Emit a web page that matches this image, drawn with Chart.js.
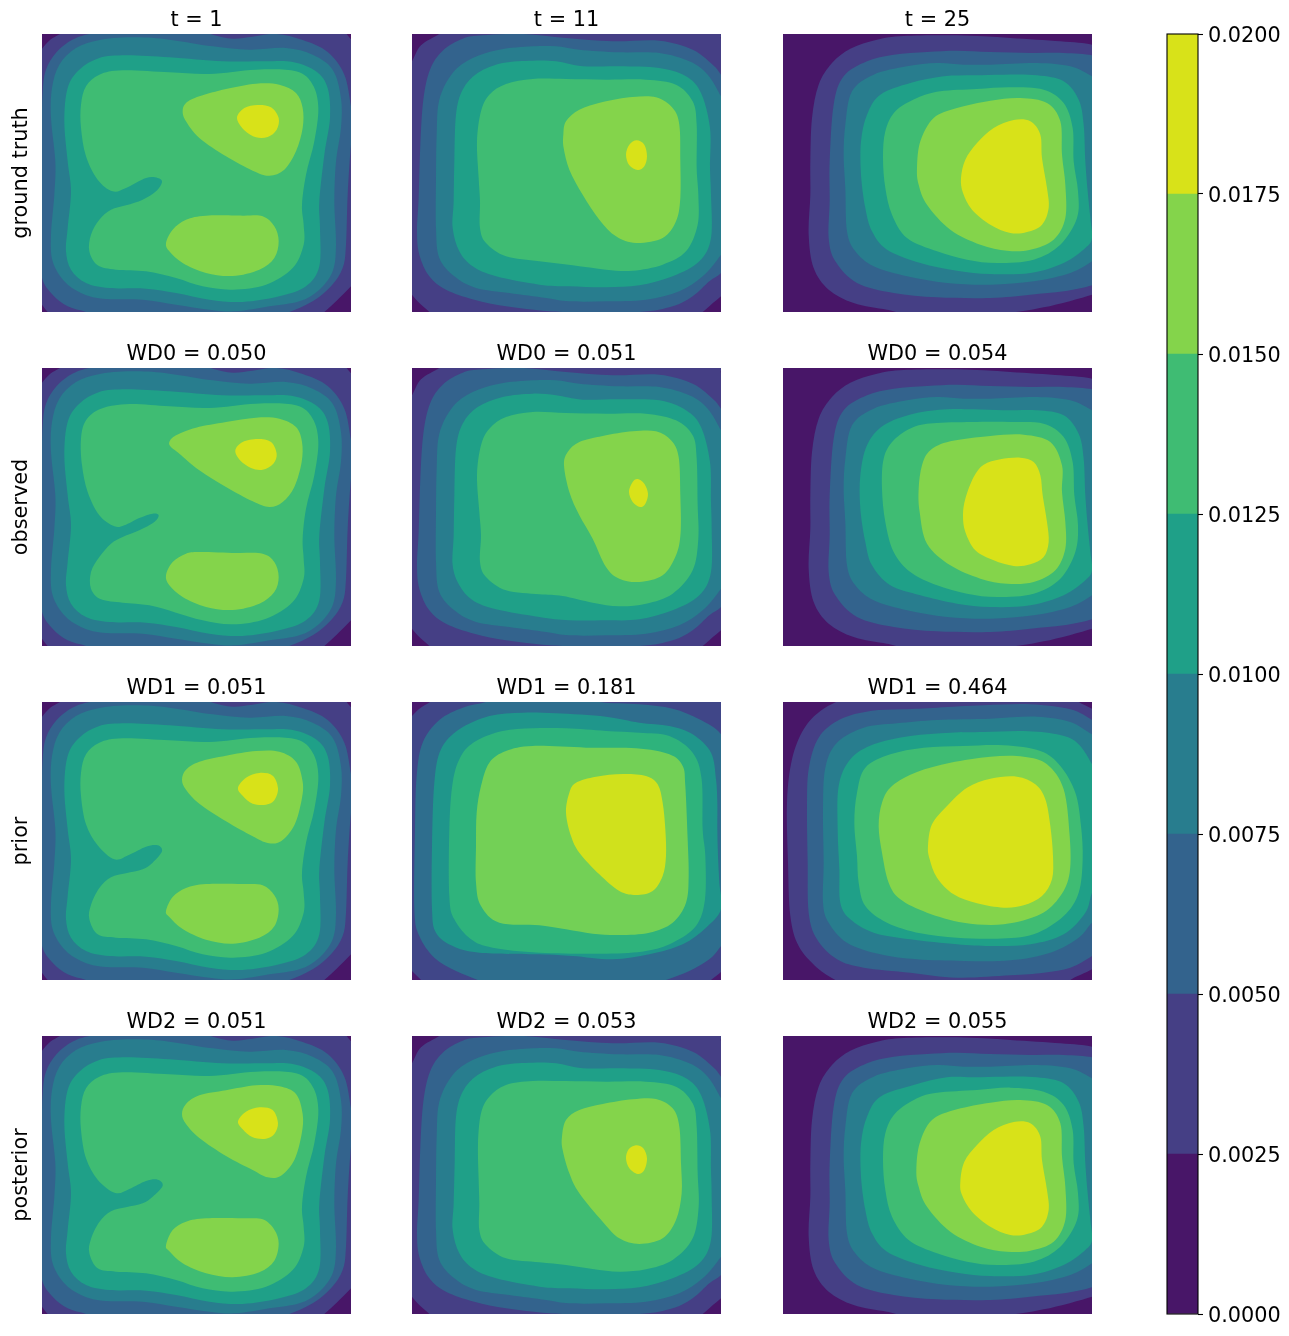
<!DOCTYPE html>
<html>
<head>
<meta charset="utf-8">
<title>Contour panels</title>
<script src="https://cdn.jsdelivr.net/npm/chart.js@4"></script>
<style>
  body { margin: 0; background: #fff; }
  #page { position: relative; width: 1289px; height: 1336px; overflow: hidden; }
  canvas { position: absolute; }
</style>
</head>
<body>
<div id="page"></div>
<script>
// labels
const rowLabels = ['ground truth', 'observed', 'prior', 'posterior'];
const panelTitles = [
  ['t = 1', 't = 11', 't = 25'],
  ['WD0 = 0.050', 'WD0 = 0.051', 'WD0 = 0.054'],
  ['WD1 = 0.051', 'WD1 = 0.181', 'WD1 = 0.464'],
  ['WD2 = 0.051', 'WD2 = 0.053', 'WD2 = 0.055']
];

// colour levels
const levelEdges = [0, 0.0025, 0.005, 0.0075, 0.01, 0.0125, 0.015, 0.0175, 0.02];
const levelColors = ['#481668', '#453f85', '#33638d', '#287d8e', '#1fa088', '#3fbc73', '#84d44b', '#d8e219'];
const priorT11Colors = ['#4a1a6e', '#404688', '#2e6e8e', '#1f968b', '#2eb37c', '#73d056', '#d0e11c', '#d0e11c'];

// contour grid range
const gridX = [18, 945];
const gridY = [18, 852];

// contour outlines as [level, vertices], level counts from 1 = lowest colour
const ringsT1 = [
  [2, [[-10,95],[18,62],[42,36],[72,18],[110,-5],[500,-20],[918,-5],[932,18],[945,34],[960,55],[975,400],[965,745],[945,775],[905,815],[865,852],[835,880],[500,890],[60,875],[35,852],[18,830],[-5,800],[-25,400]]],
  [3, [[175,15],[112,34],[62,72],[30,125],[20,190],[16,300],[5,450],[5,650],[18,750],[50,800],[95,835],[150,852],[200,870],[700,870],[760,852],[830,820],[885,775],[920,720],[930,650],[935,500],[945,350],[955,300],[945,235],[925,140],[875,72],[800,36],[720,18],[650,26],[590,32],[530,20],[480,5],[300,-5]]],
  [4, [[300,28],[195,35],[120,60],[70,110],[48,180],[45,270],[58,400],[55,500],[45,620],[50,700],[85,760],[135,795],[200,812],[320,815],[420,830],[520,845],[600,850],[700,835],[790,820],[850,785],[890,730],[900,650],[895,520],[900,400],[915,300],[915,210],[890,125],[830,80],[750,60],[640,65],[530,55],[400,35]]],
  [5, [[270,82],[190,90],[130,125],[95,180],[85,280],[95,400],[105,490],[95,600],[90,670],[105,725],[150,765],[220,780],[330,782],[420,795],[520,815],[620,822],[730,805],[810,775],[850,715],[852,600],[850,520],[865,380],[882,270],[875,180],[840,130],[770,102],[680,100],[560,100],[400,88]]]
];
const truthT1 = [...ringsT1,
  [6, [[260,127],[190,140],[150,175],[135,230],[135,300],[150,385],[185,455],[230,490],[270,480],[330,450],[365,450],[378,462],[360,490],[320,515],[270,532],[225,545],[190,575],[165,620],[160,670],[185,712],[240,725],[330,730],[420,750],[500,775],[590,785],[690,770],[770,720],[803,650],[803,590],[798,530],[810,440],[835,340],[847,240],[830,170],[780,130],[660,125],[520,138],[400,133]]],
  [7, [[440,250],[450,225],[490,205],[570,183],[660,167],[730,170],[780,195],[800,240],[800,300],[780,370],[745,425],[700,443],[650,428],[570,385],[490,330],[450,280]]],
  [7, [[390,645],[410,605],[450,575],[510,563],[620,563],[680,565],[715,595],[728,640],[715,690],[670,725],[590,744],[510,735],[440,705],[400,670]]],
  [8, [[603,270],[625,240],[665,231],[705,238],[728,270],[722,305],[695,327],[660,328],[625,307]]]
];
const observedT1 = [...ringsT1,
  [6, [[280,126],[195,140],[150,175],[135,230],[138,310],[155,390],[190,460],[235,493],[265,490],[310,468],[350,455],[368,460],[355,480],[310,505],[260,525],[225,545],[190,585],[165,630],[165,680],[195,712],[260,722],[340,730],[420,752],[500,775],[590,787],[690,770],[770,720],[803,650],[803,590],[800,530],[810,440],[835,340],[847,240],[830,170],[780,130],[660,125],[520,138],[400,133]]],
  [7, [[400,240],[420,220],[480,197],[570,180],[660,167],[730,170],[780,195],[798,240],[797,300],[775,375],[740,420],[700,435],[650,418],[570,375],[490,325],[430,275],[405,255]]],
  [7, [[390,640],[410,600],[450,575],[490,570],[600,573],[680,575],[715,600],[728,645],[715,690],[670,725],[590,744],[510,735],[440,705],[400,670]]],
  [8, [[598,265],[620,240],[665,231],[705,240],[722,275],[712,305],[680,323],[645,318],[612,295]]]
];
const priorT1 = [...ringsT1,
  [6, [[260,127],[190,140],[150,175],[135,230],[135,300],[150,385],[185,448],[235,490],[280,476],[330,452],[365,448],[378,466],[350,500],[320,520],[270,532],[225,544],[190,576],[165,627],[160,669],[185,715],[240,725],[330,730],[420,750],[500,775],[590,785],[690,770],[770,720],[803,650],[803,590],[798,530],[810,440],[835,340],[847,240],[830,170],[780,130],[660,125],[520,138],[400,133]]],
  [7, [[438,251],[450,221],[490,197],[570,179],[660,165],[730,167],[780,197],[800,257],[797,311],[775,388],[735,436],[695,441],[650,421],[570,376],[490,323],[450,281]]],
  [7, [[390,645],[410,603],[450,576],[510,564],[620,564],[680,568],[715,598],[728,639],[715,691],[670,725],[590,743],[510,731],[440,699],[400,663]]],
  [8, [[606,275],[630,245],[670,231],[710,239],[726,277],[715,313],[690,326],[650,323],[620,299]]]
];
const posteriorT1 = [...ringsT1,
  [6, [[260,127],[190,140],[150,175],[135,230],[135,300],[150,385],[185,449],[238,489],[280,477],[330,453],[365,449],[380,467],[350,500],[320,520],[270,532],[225,544],[190,576],[165,627],[160,669],[185,715],[240,725],[330,730],[420,750],[500,775],[590,785],[690,770],[770,720],[803,650],[803,590],[798,530],[810,440],[835,340],[847,240],[830,170],[780,130],[660,125],[520,138],[400,133]]],
  [7, [[438,252],[450,222],[490,196],[570,181],[660,166],[730,169],[780,192],[800,252],[797,312],[775,390],[735,437],[695,442],[650,420],[570,378],[490,324],[450,282]]],
  [7, [[390,646],[410,600],[450,575],[510,565],[620,565],[680,568],[715,599],[728,640],[715,692],[670,727],[590,742],[510,730],[440,700],[400,664]]],
  [8, [[606,274],[630,245],[670,232],[710,240],[726,279],[715,312],[690,326],[650,322],[620,298]]]
];

const ringsT11 = [
  [2, [[-10,140],[18,100],[45,52],[100,18],[130,-5],[500,-20],[915,-5],[945,32],[965,60],[975,400],[965,780],[945,805],[915,830],[890,852],[860,875],[500,890],[90,875],[70,852],[40,825],[18,800],[-5,770],[-25,400]]],
  [3, [[350,18],[230,22],[170,32],[110,68],[72,125],[52,215],[43,350],[38,510],[33,610],[40,680],[70,745],[120,785],[205,815],[300,835],[410,848],[500,852],[700,852],[800,835],[860,805],[910,760],[945,735],[965,700],[975,450],[965,170],[945,140],[920,110],[860,65],[760,38],[620,40],[480,30]]],
  [4, [[380,55],[280,65],[200,90],[140,135],[100,215],[92,320],[90,450],[90,600],[100,690],[145,745],[210,780],[310,795],[420,810],[490,820],[600,820],[720,815],[820,790],[890,745],[945,680],[965,640],[965,250],[945,205],[905,140],[850,100],[760,75],[640,73],[520,65],[450,55]]]
];
const truthT11 = [...ringsT11,
  [5, [[380,98],[290,105],[215,135],[170,185],[150,260],[145,400],[143,520],[140,600],[160,670],[200,715],[270,745],[400,770],[490,775],[600,778],[700,772],[800,745],[880,700],[915,630],[915,500],[912,420],[912,300],[885,195],[840,145],[760,120],[640,115],[530,115],[450,100]]],
  [6, [[380,153],[300,168],[250,200],[225,250],[213,340],[218,450],[222,520],[222,600],[240,645],[300,685],[400,700],[500,712],[600,725],[680,728],[770,710],[840,670],[875,590],[877,500],[872,420],[872,290],[860,220],[810,170],[720,155],[600,155],[480,153]]],
  [7, [[472,320],[480,280],[520,245],[590,222],[680,207],[750,208],[800,240],[820,290],[823,400],[823,510],[810,580],[770,630],[690,645],[630,625],[580,575],[530,500],[490,425],[473,360]]],
  [8, [[660,380],[670,350],[692,337],[715,350],[723,385],[715,415],[695,426],[670,412]]]
];
const observedT11 = [...ringsT11,
  [5, [[380,95],[290,105],[215,135],[170,185],[150,260],[145,400],[143,520],[140,610],[160,670],[200,715],[270,742],[400,765],[490,775],[600,775],[700,772],[800,745],[880,700],[915,630],[917,500],[915,420],[912,300],[885,195],[840,145],[760,115],[640,112],[530,113],[450,100]]],
  [6, [[380,150],[300,165],[250,200],[225,250],[213,340],[220,450],[225,520],[222,600],[240,645],[300,685],[400,697],[470,702],[560,722],[640,733],[720,725],[800,695],[860,625],[877,530],[875,430],[872,290],[860,220],[810,175],[720,155],[600,155],[480,153]]],
  [7, [[474,310],[485,270],[520,240],[590,222],[680,208],[750,208],[795,235],[818,285],[823,400],[824,510],[810,580],[770,640],[700,660],[640,650],[600,615],[560,530],[520,460],[490,390]]],
  [8, [[669,390],[680,360],[695,351],[715,365],[726,395],[718,425],[702,435],[680,420]]]
];
const priorT11 = [
  [2, [[-10,90],[18,60],[40,38],[72,18],[100,-5],[500,-20],[965,-10],[975,400],[965,800],[945,828],[915,852],[890,875],[500,890],[65,875],[45,852],[18,825],[-5,800],[-25,400]]],
  [3, [[240,18],[170,35],[100,72],[50,140],[32,240],[27,400],[25,640],[40,720],[85,785],[150,825],[215,852],[260,875],[720,875],[780,852],[850,825],[910,790],[945,750],[975,700],[975,200],[945,115],[880,70],[800,38],[700,25],[580,18],[520,-5],[300,-5]]],
  [4, [[350,50],[250,60],[160,100],[105,160],[85,260],[78,450],[78,640],[90,710],[140,750],[220,770],[400,775],[500,780],[620,790],[730,775],[830,745],[900,695],[945,640],[940,560],[936,480],[934,400],[934,320],[930,250],[915,170],[860,115],[790,90],[700,80],[600,62],[450,52]]],
  [5, [[380,97],[290,105],[210,135],[165,180],[140,260],[130,400],[130,600],[145,670],[195,730],[260,755],[400,770],[600,773],[720,765],[800,740],[870,690],[897,610],[898,480],[890,400],[887,250],[860,170],[790,120],[700,110],[600,105],[480,97]]],
  [6, [[380,150],[300,165],[250,200],[225,270],[212,350],[210,450],[210,560],[225,630],[280,680],[400,688],[480,700],[560,713],[640,717],[730,710],[800,680],[840,620],[848,540],[845,430],[838,270],[830,210],[790,175],[690,157],[540,155]]],
  [7, [[480,350],[490,290],[510,260],[570,242],[650,234],[720,240],[755,265],[770,320],[778,400],[780,480],[770,540],[740,585],[690,597],[640,585],[580,535],[520,470],[495,420]]]
];
const posteriorT11 = [...ringsT11,
  [5, [[380,98],[290,105],[215,135],[170,185],[150,260],[146,400],[143,520],[140,600],[160,670],[200,715],[270,745],[400,770],[490,775],[600,778],[700,772],[800,745],[880,700],[915,630],[917,500],[915,420],[912,300],[885,195],[840,145],[760,120],[640,115],[530,115],[450,100]]],
  [6, [[380,153],[300,165],[250,200],[225,250],[216,340],[218,450],[220,520],[220,600],[240,645],[300,685],[400,697],[480,705],[560,717],[640,725],[720,718],[800,690],[860,625],[878,530],[875,430],[872,290],[860,220],[810,170],[720,155],[600,155],[480,153]]],
  [7, [[468,320],[480,270],[520,240],[590,222],[680,208],[750,207],[800,235],[820,290],[825,400],[827,490],[810,570],[770,625],[700,642],[640,625],[590,575],[520,490],[490,430],[470,360]]],
  [8, [[660,385],[668,358],[690,346],[712,355],[723,385],[715,420],[695,432],[670,415]]]
];

const ringsT25 = [
  [2, [[380,24],[300,35],[220,62],[165,105],[125,170],[105,270],[100,400],[100,500],[95,620],[110,720],[155,785],[230,825],[330,845],[400,855],[670,855],[800,838],[945,800],[985,780],[985,70],[945,50],[850,40],[700,30],[540,22]]],
  [3, [[450,72],[350,80],[270,100],[200,145],[170,230],[158,400],[158,520],[155,630],[175,700],[240,765],[350,795],[480,808],[640,810],[760,800],[860,790],[945,772],[985,750],[985,100],[945,82],[860,75],[760,75],[640,72],[540,68]]],
  [4, [[480,105],[390,115],[290,140],[225,190],[205,290],[200,380],[205,480],[210,610],[235,670],[290,715],[390,745],[510,765],[640,770],[770,760],[880,735],[945,700],[985,670],[985,170],[945,145],[880,115],[780,105],[640,110],[560,110]]]
];
const truthT25 = [...ringsT25,
  [5, [[500,145],[400,165],[310,200],[270,260],[252,340],[252,440],[265,540],[285,610],[330,665],[430,705],[540,728],[640,738],[760,735],[860,705],[925,660],[945,630],[940,570],[932,490],[925,400],[920,290],[905,215],[860,160],[780,142],[680,140],[590,142]]],
  [6, [[490,190],[420,210],[355,250],[325,310],[318,390],[325,480],[345,560],[390,630],[480,670],[570,695],[660,705],[770,695],[850,650],[900,570],[903,490],[890,400],[887,300],[860,225],[800,185],[700,178],[600,183]]],
  [7, [[420,420],[430,340],[470,270],[540,240],[640,218],[730,210],[810,225],[850,280],[855,380],[865,470],[865,570],[830,635],[760,665],[690,668],[610,650],[520,605],[450,530],[425,470]]],
  [8, [[552,450],[565,395],[600,345],[650,300],[710,276],[760,280],[790,320],[795,390],[810,480],[815,540],[795,590],[750,612],[700,615],[640,590],[585,545],[558,495]]]
];
const observedT25 = [...ringsT25,
  [5, [[510,142],[410,155],[320,190],[270,250],[250,340],[250,440],[265,540],[285,610],[340,670],[430,700],[540,725],[640,735],[760,730],[860,700],[925,655],[945,625],[940,570],[932,490],[925,400],[920,290],[905,215],[860,160],[780,145],[680,145],[590,142]]],
  [6, [[480,183],[410,195],[350,235],[320,290],[315,380],[325,480],[350,570],[400,630],[480,670],[570,695],[660,705],[770,695],[850,650],[895,570],[903,490],[892,400],[887,300],[860,225],[800,185],[700,180],[600,180]]],
  [7, [[425,380],[435,310],[460,265],[520,238],[640,222],[740,218],[820,240],[855,310],[855,390],[865,480],[865,560],[835,625],[770,660],[690,665],[610,650],[520,610],[450,545],[428,450]]],
  [8, [[558,460],[565,410],[590,345],[620,308],[670,292],[730,287],[770,300],[790,340],[797,400],[810,480],[815,540],[800,585],[760,607],[710,612],[650,595],[595,565],[565,510]]]
];
const priorT25 = [
  [2, [[195,10],[130,45],[80,100],[45,190],[30,320],[33,500],[40,660],[65,750],[120,815],[175,852],[220,880],[860,880],[880,852],[945,820],[985,790],[985,60],[945,38],[905,18],[880,-5],[240,-5]]],
  [3, [[380,40],[280,45],[190,70],[125,125],[95,220],[90,340],[92,500],[95,650],[120,730],[180,790],[260,815],[400,830],[540,845],[700,838],[800,830],[880,815],[945,780],[985,750],[985,100],[945,72],[880,40],[760,25],[620,28],[480,35]]],
  [4, [[480,72],[360,82],[260,95],[180,140],[145,215],[138,340],[140,500],[138,620],[155,680],[210,740],[310,775],[420,790],[560,795],[700,793],[820,770],[905,725],[945,680],[985,660],[985,130],[945,115],[880,78],[780,62],[640,68]]],
  [5, [[520,110],[400,120],[290,145],[220,190],[185,270],[182,400],[187,520],[190,620],[220,670],[290,710],[400,730],[540,745],[640,750],[760,745],[860,715],[925,650],[945,590],[985,500],[985,300],[945,205],[900,140],[840,115],[740,105],[620,108]]],
  [6, [[560,150],[440,155],[340,175],[265,215],[240,290],[232,380],[240,480],[245,560],[265,630],[330,680],[430,712],[540,725],[660,728],[770,715],[860,660],[905,590],[917,490],[912,390],[895,290],[850,210],[790,165],[680,148]]],
  [7, [[305,390],[315,320],[345,270],[420,228],[520,200],[640,182],[740,182],[810,205],[860,280],[878,420],[878,530],[850,600],[790,655],[680,685],[560,680],[450,650],[370,610],[335,560],[315,470]]],
  [8, [[453,450],[465,385],[510,330],[570,275],[640,248],[720,242],[775,265],[805,310],[820,390],[828,480],[825,550],[795,600],[740,628],[680,635],[600,622],[530,595],[480,545],[458,490]]]
];
const posteriorT25 = [...ringsT25,
  [5, [[510,142],[410,165],[310,200],[270,260],[252,340],[252,440],[265,540],[285,610],[330,665],[430,705],[540,728],[640,738],[760,735],[860,705],[925,660],[945,630],[940,570],[932,490],[925,400],[920,290],[905,215],[860,160],[780,142],[680,140],[590,142]]],
  [6, [[480,188],[420,205],[355,250],[325,310],[318,390],[325,480],[345,560],[395,630],[480,670],[570,695],[660,705],[770,695],[850,650],[900,570],[903,490],[890,400],[887,300],[860,225],[800,185],[700,173],[600,180]]],
  [7, [[418,420],[428,340],[465,270],[540,238],[640,218],[730,210],[810,225],[850,280],[855,380],[865,470],[865,570],[830,635],[760,662],[690,665],[610,650],[520,605],[450,530],[425,470]]],
  [8, [[550,455],[562,395],[600,345],[650,300],[710,276],[760,280],[790,320],[795,390],[810,480],[815,540],[795,590],[750,612],[700,615],[640,590],[585,545],[555,495]]]
];

const panelData = [
  [truthT1, truthT11, truthT25],
  [observedT1, observedT11, observedT25],
  [priorT1, priorT11, priorT25],
  [posteriorT1, posteriorT11, posteriorT25]
];

const fontFamily = "'DejaVu Sans', sans-serif";
const fontSize = 20.8;
Chart.defaults.font.family = fontFamily;
Chart.defaults.color = '#000';

// fills every dataset as a closed smooth outline, lowest level first
const contourFill = {
  id: 'contourFill',
  beforeDatasetsDraw(chart, args, opts) {
    const { ctx, chartArea: a } = chart;
    ctx.save();
    ctx.beginPath();
    ctx.rect(a.left, a.top, a.width, a.height);
    ctx.clip();
    ctx.fillStyle = opts.base;
    ctx.fillRect(a.left, a.top, a.width, a.height);
    chart.data.datasets.forEach((ds, i) => {
      const p = chart.getDatasetMeta(i).data;
      const n = p.length;
      ctx.beginPath();
      ctx.moveTo(p[0].x, p[0].y);
      for (let k = 0; k < n; k++) {
        const p0 = p[(k - 1 + n) % n], p1 = p[k], p2 = p[(k + 1) % n], p3 = p[(k + 2) % n];
        ctx.bezierCurveTo(
          p1.x + (p2.x - p0.x) / 6, p1.y + (p2.y - p0.y) / 6,
          p2.x - (p3.x - p1.x) / 6, p2.y - (p3.y - p1.y) / 6,
          p2.x, p2.y
        );
      }
      ctx.closePath();
      ctx.fillStyle = ds.backgroundColor;
      ctx.fill();
    });
    ctx.restore();
  }
};

const colLefts = [42, 412, 783];
const rowTops = [34, 368, 702, 1036];
const page = document.getElementById('page');

function addCanvas(left, top, width, height) {
  const c = document.createElement('canvas');
  c.width = width;
  c.height = height;
  c.style.left = left + 'px';
  c.style.top = top + 'px';
  c.style.width = width + 'px';
  c.style.height = height + 'px';
  page.appendChild(c);
  return c;
}

panelData.forEach((row, r) => {
  row.forEach((rings, c) => {
    const colors = (r === 2 && c === 1) ? priorT11Colors : levelColors;
    const first = c === 0;
    const canvas = addCanvas(first ? 0 : colLefts[c], rowTops[r] - 34, first ? 351 : 309, 312);
    new Chart(canvas, {
      type: 'scatter',
      data: {
        datasets: rings.map(([level, pts]) => ({
          data: pts.map(([x, y]) => ({ x, y })),
          backgroundColor: colors[level - 1],
          showLine: false,
          pointRadius: 0
        }))
      },
      options: {
        responsive: false,
        animation: false,
        devicePixelRatio: 1,
        events: [],
        layout: { padding: 0 },
        scales: {
          x: { type: 'linear', display: false, min: gridX[0], max: gridX[1] },
          y: {
            type: 'linear',
            display: first,
            reverse: true,
            min: gridY[0],
            max: gridY[1],
            grid: { display: false, drawTicks: false },
            border: { display: false },
            ticks: { display: false },
            title: {
              display: first,
              text: rowLabels[r],
              font: { size: fontSize },
              padding: { top: 9.5, bottom: 7.5 }
            },
            afterFit(scale) { if (first) scale.width = 42; }
          }
        },
        plugins: {
          legend: { display: false },
          tooltip: { enabled: false },
          contourFill: { base: colors[0] },
          title: {
            display: true,
            fullSize: false,
            text: panelTitles[r][c],
            font: { size: fontSize, weight: 'normal' },
            padding: { top: 8.5, bottom: 0.5 }
          }
        }
      },
      plugins: [contourFill]
    });
  });
});

// colour bar
const barFrame = {
  id: 'barFrame',
  afterDraw(chart) {
    const { ctx, chartArea: a } = chart;
    ctx.save();
    ctx.strokeStyle = '#000';
    ctx.lineWidth = 1.1;
    ctx.strokeRect(a.left, a.top, a.width, a.height);
    ctx.restore();
  }
};
new Chart(addCanvas(1160, 16, 129, 1316), {
  type: 'bar',
  data: {
    labels: ['level'],
    datasets: levelColors.map((color, i) => ({
      data: [[levelEdges[i], levelEdges[i + 1]]],
      backgroundColor: color,
      barPercentage: 1,
      categoryPercentage: 1,
      grouped: false
    }))
  },
  options: {
    responsive: false,
    animation: false,
    devicePixelRatio: 1,
    events: [],
    layout: { padding: { left: 7, top: 18, bottom: 18, right: 0 } },
    scales: {
      x: { display: false },
      y: {
        position: 'right',
        min: 0,
        max: 0.02,
        grid: { drawOnChartArea: false, tickLength: 5, tickColor: '#000', tickWidth: 1.1 },
        border: { display: false },
        ticks: {
          stepSize: 0.0025,
          padding: 5,
          labelOffset: 3,
          font: { size: fontSize },
          callback: v => v.toFixed(4)
        },
        afterFit(scale) { scale.width = 91; }
      }
    },
    plugins: { legend: { display: false }, tooltip: { enabled: false } }
  },
  plugins: [barFrame]
});
</script>
</body>
</html>
